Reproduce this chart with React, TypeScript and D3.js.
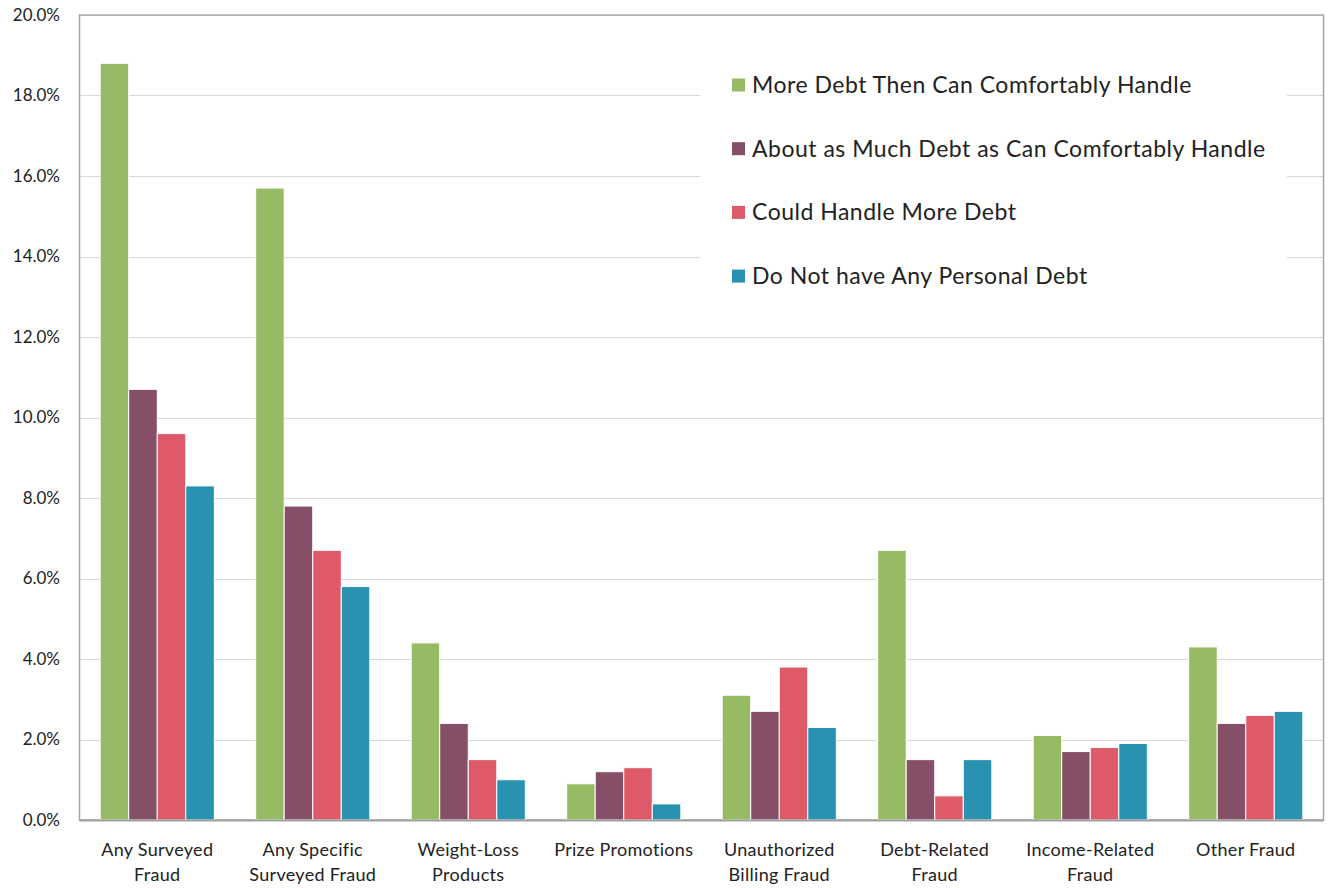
import React from "react";
import * as d3 from "d3";

const categories: string[][] = [
  ["Any Surveyed", "Fraud"],
  ["Any Specific", "Surveyed Fraud"],
  ["Weight-Loss", "Products"],
  ["Prize Promotions"],
  ["Unauthorized", "Billing Fraud"],
  ["Debt-Related", "Fraud"],
  ["Income-Related", "Fraud"],
  ["Other Fraud"],
];

const seriesNames = [
  "More Debt Then Can Comfortably Handle",
  "About as Much Debt as Can Comfortably Handle",
  "Could Handle More Debt",
  "Do Not have Any Personal Debt",
];

const moreDebt = [18.8, 15.7, 4.4, 0.9, 3.1, 6.7, 2.1, 4.3];
const aboutAsMuch = [10.7, 7.8, 2.4, 1.2, 2.7, 1.5, 1.7, 2.4];
const couldHandleMore = [9.6, 6.7, 1.5, 1.3, 3.8, 0.6, 1.8, 2.6];
const noDebt = [8.3, 5.8, 1.0, 0.4, 2.3, 1.5, 1.9, 2.7];

const seriesValues = [moreDebt, aboutAsMuch, couldHandleMore, noDebt];
const colors = ["#97BB64", "#854F67", "#DF5A68", "#2892B0"];
const yTicks = [0, 2, 4, 6, 8, 10, 12, 14, 16, 18, 20];

const FONT = "Lato, 'Open Sans', sans-serif";

export default function App() {
  const W = 1328;
  const H = 888;
  const left = 79.5;
  const right = 1323.5;
  const top = 15;
  const bottom = 820;

  const y = d3.scaleLinear().domain([0, 20]).range([bottom, top]);
  const x0 = d3
    .scaleBand<number>()
    .domain(d3.range(categories.length))
    .range([left, right])
    .paddingInner(0.266)
    .paddingOuter(0.133);
  const x1 = d3
    .scaleBand<number>()
    .domain(d3.range(seriesValues.length))
    .range([0, x0.bandwidth()])
    .padding(0);

  const legendBox = { x: 700, y: 50, w: 587, h: 255 };

  return (
    <svg
      width={W}
      height={H}
      style={{ position: "absolute", left: 0, top: 0, background: "#fff" }}
      fontFamily={FONT}
    >
      {yTicks.map((t) => (
        <line
          key={"g" + t}
          x1={left}
          x2={right}
          y1={Math.round(y(t)) + 0.5}
          y2={Math.round(y(t)) + 0.5}
          stroke="#D9D9D9"
          strokeWidth={1}
        />
      ))}
      <rect
        x={legendBox.x}
        y={legendBox.y}
        width={legendBox.w}
        height={legendBox.h}
        fill="#fff"
      />
      <rect
        x={left}
        y={top}
        width={right - left}
        height={bottom - top}
        fill="none"
        stroke="#A6A6A6"
        strokeWidth={1.5}
      />
      {seriesValues.map((vals, s) =>
        vals.map((v, i) => (
          <rect
            key={`b${s}-${i}`}
            x={(x0(i) as number) + (x1(s) as number)}
            y={y(v)}
            width={x1.bandwidth()}
            height={bottom - y(v)}
            fill={colors[s]}
            stroke="#fff"
            strokeWidth={1}
          />
        ))
      )}
      <line
        x1={left}
        x2={right}
        y1={bottom + 0.5}
        y2={bottom + 0.5}
        stroke="#A0A0A0"
        strokeWidth={2}
      />
      {yTicks.map((t) => (
        <text
          key={"t" + t}
          x={60}
          y={y(t)}
          dy="0.35em"
          textAnchor="end"
          fontSize={17}
          fill="#222"
        >
          {t.toFixed(1) + "%"}
        </text>
      ))}
      {categories.map((lines, i) => (
        <text
          key={"c" + i}
          x={(x0(i) as number) + x0.bandwidth() / 2}
          y={856}
          textAnchor="middle"
          fontSize={18}
          letterSpacing={0.3}
          fill="#222"
        >
          {lines.map((l, k) => (
            <tspan key={k} x={(x0(i) as number) + x0.bandwidth() / 2} dy={k === 0 ? 0 : 25}>
              {l}
            </tspan>
          ))}
        </text>
      ))}
      {seriesNames.map((name, s) => {
        const cy = 85 + s * 63.7;
        return (
          <g key={"l" + s}>
            <rect x={732} y={cy - 6.5} width={13} height={13} fill={colors[s]} />
            <text x={752} y={cy} dy="0.35em" fontSize={23} letterSpacing={0.5} fill="#222">
              {name}
            </text>
          </g>
        );
      })}
    </svg>
  );
}
